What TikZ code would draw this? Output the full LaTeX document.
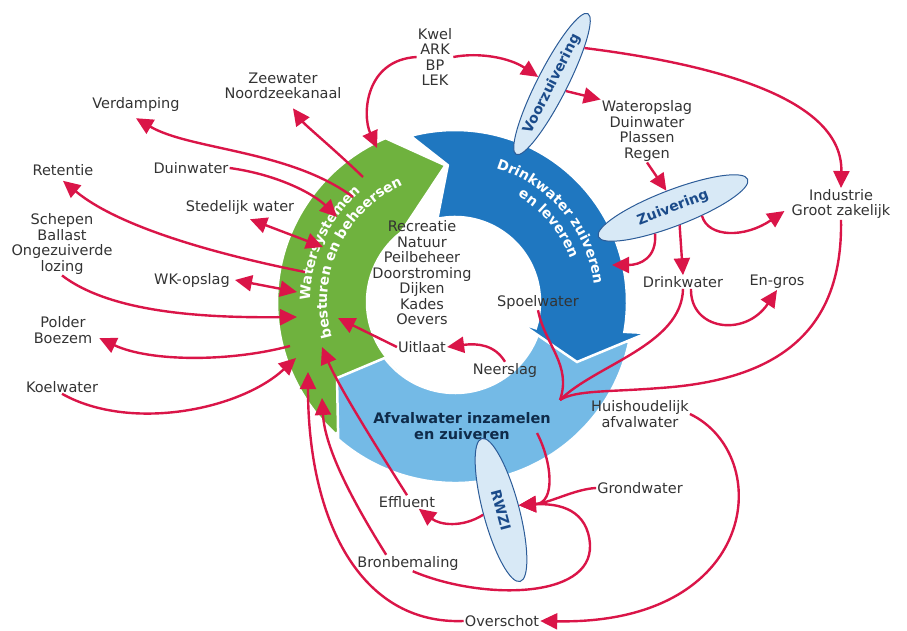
\documentclass[tikz,border=0pt]{standalone}
\usepackage{fontspec}
\setmainfont{DejaVu Sans}
\usepackage{tikz}
\usetikzlibrary{arrows.meta,shapes.geometric,decorations.text}
\definecolor{rood}{HTML}{DA1548}
\definecolor{groen}{HTML}{6FB23E}
\definecolor{donkerblauw}{HTML}{1F77C0}
\definecolor{lichtblauw}{HTML}{74BAE6}
\definecolor{ovaalvul}{HTML}{D8E9F6}
\definecolor{ovaalrand}{HTML}{2C5C98}
\definecolor{ovaaltekst}{HTML}{1B4B8A}
\definecolor{marine}{HTML}{0F2B4A}
\definecolor{grijs}{HTML}{333333}
\tikzset{
  tekst/.style={align=center,text=grijs,font=\fontsize{14.5}{15.5}\selectfont,inner sep=1pt},
  pijl/.style={draw=rood,line width=2.4pt,-{Triangle[length=17pt,width=16pt]}},
  dubbelpijl/.style={draw=rood,line width=2.4pt,{Triangle[length=17pt,width=16pt]}-{Triangle[length=17pt,width=16pt]}},
  lijn/.style={draw=rood,line width=2.4pt},
  ovaal/.style={ellipse,draw=ovaalrand,fill=ovaalvul,line width=1pt,inner sep=0pt,
                text=ovaaltekst,font=\bfseries\fontsize{14}{14}\selectfont},
  band/.style={draw=white,line width=2.5pt},
}

\begin{document}
\begin{tikzpicture}[x=1pt,y=-1pt]
  \useasboundingbox (0,0) rectangle (907,631);
  \begin{scope}[shift={(455,302)}]
    \path[band,fill=groen] (132:178) arc[start angle=132,end angle=247,radius=178] -- (266:137) -- (232:88) arc[start angle=232,end angle=128,radius=88] -- cycle;
  \end{scope}
  \begin{scope}[shift={(455,305)}]
    \path[band,fill=lichtblauw] (12:178) arc[start angle=12,end angle=131,radius=178] -- (-118,73) -- (143:88) arc[start angle=143,end angle=12,radius=88] -- cycle;
  \end{scope}
  \begin{scope}[shift={(455,302)}]
    \path[band,fill=donkerblauw] (255:172) -- (267:137) -- (258:85) arc[start angle=258,end angle=378,radius=85] -- (65,21) -- (122,60) -- (192,31) -- (370:172) arc[start angle=370,end angle=255,radius=172] -- cycle;
    \path[decorate,decoration={text along path,text align=center,text color=white,text={|\bfseries\fontsize{14}{14}\selectfont|Watersystemen}}] (145:145) arc[start angle=145,end angle=265,radius=145];
    \path[decorate,decoration={text along path,text align=center,text color=white,text={|\bfseries\fontsize{14}{14}\selectfont|besturen en beheersen}}] (145:128) arc[start angle=145,end angle=265,radius=128];
    \path[decorate,decoration={text along path,text align=center,text color=white,text={|\bfseries\fontsize{14}{14}\selectfont|Drinkwater zuiveren}}] (255:140) arc[start angle=255,end angle=385,radius=140];
    \path[decorate,decoration={text along path,text align=center,text color=white,text={|\bfseries\fontsize{14}{14}\selectfont|en leveren}}] (260:123) arc[start angle=260,end angle=380,radius=123];
  \end{scope}

  \node[tekst] (kwel) at (435,57) {Kwel\\ARK\\BP\\LEK};
  \node[tekst] (zee) at (283,86) {Zeewater\\Noordzeekanaal};
  \node[tekst] (verd) at (136,105) {Verdamping};
  \node[tekst] (duin) at (191,168) {Duinwater};
  \node[tekst] (ret) at (63,170) {Retentie};
  \node[tekst] (sted) at (240,207) {Stedelijk water};
  \node[tekst] (schep) at (62,244) {Schepen\\Ballast\\Ongezuiverde\\lozing};
  \node[tekst] (wk) at (192,280) {WK-opslag};
  \node[tekst] (pol) at (63,330) {Polder\\Boezem};
  \node[tekst] (koel) at (62,387) {Koelwater};
  \node[tekst] (wat) at (647,131) {Wateropslag\\Duinwater\\Plassen\\Regen};
  \node[tekst] (ind) at (841,204) {Industrie\\Groot zakelijk};
  \node[tekst] (drink) at (683,282) {Drinkwater};
  \node[tekst] (gros) at (777,282) {En-gros};
  \node[tekst] (func) at (422,273) {Recreatie\\Natuur\\Peilbeheer\\Doorstroming\\Dijken\\Kades\\Oevers};
  \node[tekst] (spoel) at (538,302) {Spoelwater};
  \node[tekst] (uit) at (422,347) {Uitlaat};
  \node[tekst] (neer) at (505,370) {Neerslag};
  \node[tekst,text=marine,font=\bfseries\fontsize{14.5}{15.5}\selectfont] (afval) at (462,426) {Afvalwater inzamelen\\en zuiveren};
  \node[tekst] (huis) at (640,414) {Huishoudelijk\\afvalwater};
  \node[tekst] (grond) at (640,488) {Grondwater};
  \node[tekst] (eff) at (407,502) {Effluent};
  \node[tekst] (bron) at (408,563) {Bronbemaling};
  \node[tekst] (over) at (502,621) {Overschot};

  \node[ovaal,minimum width=158pt,minimum height=30pt,rotate=63] (voor) at (552,84) {Voorzuivering};
  \node[ovaal,minimum width=160pt,minimum height=36pt,rotate=21] (zuiv) at (673,208) {Zuivering};
  \node[ovaal,minimum width=148pt,minimum height=36pt,rotate=-75] (rwzi) at (501,510) {RWZI};

  \coordinate (w-kwel) at (377,148);
  \coordinate (w-zee) at (363,177);
  \coordinate (w-verd) at (353,197);
  \coordinate (w-duin) at (337,217);
  \coordinate (w-sted) at (323,247);
  \coordinate (w-ret) at (305,272);
  \coordinate (w-wk) at (297,292);
  \coordinate (w-schep) at (297,317);
  \coordinate (w-uit) at (338,318);
  \coordinate (w-pol) at (290,346);
  \coordinate (w-koel) at (296,358);
  \coordinate (w-eff) at (322,347);
  \coordinate (w-over) at (308,372);
  \coordinate (w-bron) at (322,398);
  \coordinate (d-zuiv) at (612,265);
  \coordinate (samen) at (560,400);
  \coordinate (a-rwzi) at (537,433);

  \draw[pijl] (kwel.west) .. controls (365,60) and (362,115) .. (w-kwel);
  \draw[pijl] (kwel.east) .. controls (480,52) and (510,58) .. (voor.north);
  \draw[pijl] (voor.south) -- (wat.north west);
  \draw[pijl] (voor.-15) .. controls (720,65) and (843,100) .. (ind.north);
  \draw[pijl] (wat.south) -- (zuiv.north);
  \draw[pijl] (zuiv.214) .. controls (657,258) and (640,265) .. (d-zuiv);
  \draw[pijl] (zuiv.south) -- (drink.north);
  \draw[pijl] (zuiv.-36) .. controls (708,238) and (745,238) .. ([xshift=-6pt,yshift=-7pt]ind.west);
  \draw[pijl] ([xshift=8pt]drink.south) .. controls (690,330) and (745,338) .. (gros.south);
  \draw[lijn] (drink.south) .. controls (682,345) and (595,365) .. (samen);
  \draw[lijn] (ind.south) .. controls (843,330) and (780,380) .. (660,388) .. controls (610,392) and (575,390) .. (samen);
  \draw[lijn] (spoel.south) .. controls (545,345) and (572,365) .. (samen);
  \draw[pijl] (a-rwzi) .. controls (552,462) and (556,503) .. (rwzi.north);
  \draw[pijl] (grond.west) .. controls (575,489) and (550,503) .. (rwzi.north);
  \draw[pijl] (bron.-60) .. controls (480,600) and (592,600) .. (590,545) .. controls (588,510) and (560,503) .. (rwzi.north);
  \draw[pijl] (rwzi.south) .. controls (462,528) and (440,525) .. (eff.-30);
  \draw[pijl] (eff.north) .. controls (372,440) and (338,385) .. (w-eff);
  \draw[pijl] ([xshift=30pt]bron.north west) .. controls (355,505) and (325,450) .. (w-bron);
  \draw[pijl] (over.west) .. controls (360,625) and (308,520) .. (w-over);
  \draw[pijl] (huis.east) .. controls (775,455) and (760,625) .. (over.east);
  \draw[pijl] (neer.north) .. controls (495,345) and (478,343) .. (uit.east);
  \draw[pijl] (uit.west) -- (w-uit);
  \draw[pijl] (w-zee) .. controls (335,150) and (305,125) .. ([xshift=10pt,yshift=-8pt]zee.south);
  \draw[pijl] (w-verd) .. controls (290,150) and (190,150) .. ([yshift=-5pt]verd.south);
  \draw[pijl] (duin.east) .. controls (280,175) and (315,195) .. (w-duin);
  \draw[dubbelpijl] ([xshift=10pt,yshift=-4pt]sted.south) -- (w-sted);
  \draw[pijl] (w-ret) .. controls (220,255) and (120,228) .. ([yshift=-4pt]ret.south);
  \draw[dubbelpijl] ([xshift=4pt]wk.east) -- (w-wk);
  \draw[pijl] (schep.south) .. controls (110,312) and (200,318) .. (w-schep);
  \draw[pijl] (w-pol) .. controls (230,362) and (150,362) .. ([xshift=6pt]pol.-15);
  \draw[pijl] (koel.south) .. controls (130,432) and (240,410) .. (w-koel);
\end{tikzpicture}
\end{document}
